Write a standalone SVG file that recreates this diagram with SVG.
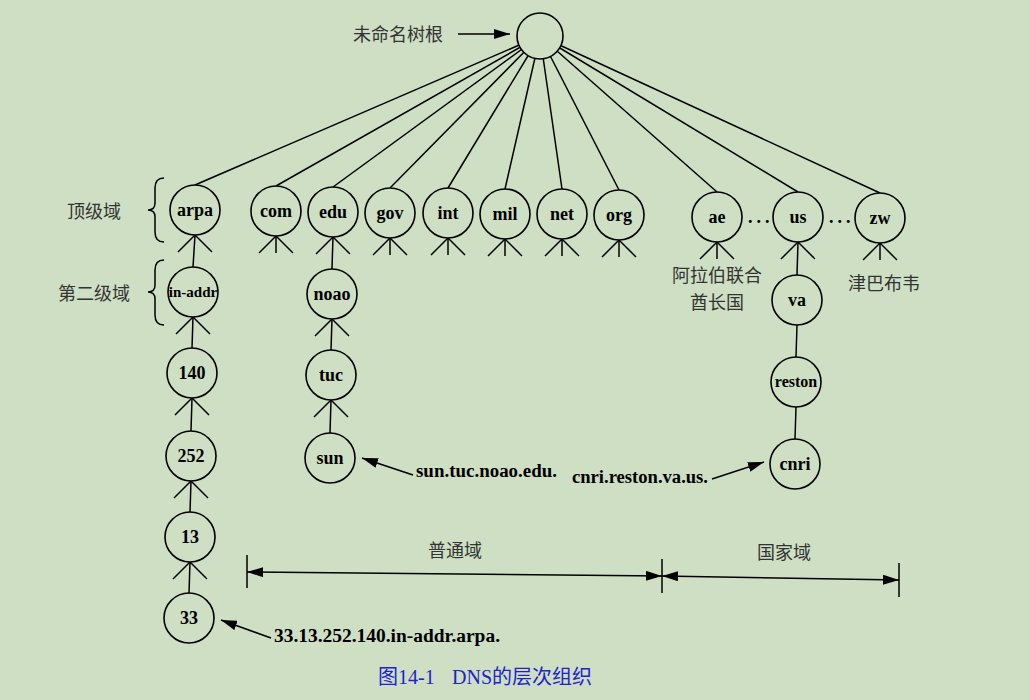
<svg xmlns="http://www.w3.org/2000/svg" width="1029" height="700" viewBox="0 0 1029 700">
<defs>
<marker id="ah" viewBox="0 0 16 10" refX="16" refY="5" markerWidth="16" markerHeight="10" markerUnits="userSpaceOnUse" orient="auto-start-reverse">
<path d="M0,0 L16,5 L0,10 z" fill="#000"/>
</marker>
</defs>
<style>
.bg{fill:#cedfc4}
.ln{stroke:#000;stroke-width:1.5;fill:none}
.nd{stroke:#000;stroke-width:1.6;fill:#cedfc4}
.n{font-family:"Liberation Serif",serif;font-weight:bold;font-size:18px;text-anchor:middle;fill:#000}
.s{font-size:15px}
.lbl{font-family:"Liberation Serif",serif;font-weight:bold;font-size:18px;fill:#000}
.c{font-family:"Noto Sans CJK SC",sans-serif;font-size:18px;fill:#333;text-anchor:middle}
.ar{stroke:#000;stroke-width:1.5;fill:none;marker-end:url(#ah)}
.dim{stroke:#000;stroke-width:1.5;fill:none;marker-start:url(#ah);marker-end:url(#ah)}
.cap{font-family:"Liberation Serif","Noto Sans CJK SC",serif;font-size:20px;fill:#2222cc}
</style>
<rect class="bg" x="0" y="0" width="1029" height="700"/>
<g id="connectors">
<g id="root-links">
<line class="ln" x1="540" y1="36" x2="195" y2="185"/>
<line class="ln" x1="540" y1="36" x2="276" y2="186"/>
<line class="ln" x1="540" y1="36" x2="333" y2="187"/>
<line class="ln" x1="540" y1="36" x2="390" y2="188"/>
<line class="ln" x1="540" y1="36" x2="448" y2="188"/>
<line class="ln" x1="540" y1="36" x2="505" y2="189"/>
<line class="ln" x1="540" y1="36" x2="562" y2="189"/>
<line class="ln" x1="540" y1="36" x2="619" y2="190"/>
<line class="ln" x1="540" y1="36" x2="717" y2="192"/>
<line class="ln" x1="540" y1="36" x2="798" y2="192"/>
<line class="ln" x1="540" y1="36" x2="880" y2="193"/>
</g>
<g id="forks">
<polyline class="ln" points="178,252 195,235 212,252"/><line class="ln" x1="195" y1="235" x2="193" y2="267"/>
<polyline class="ln" points="259,253 276,236 293,253"/><line class="ln" x1="276" y1="236" x2="276" y2="253"/>
<polyline class="ln" points="316,254 333,237 350,254"/><line class="ln" x1="333" y1="237" x2="332" y2="269"/>
<polyline class="ln" points="373,255 390,238 407,255"/><line class="ln" x1="390" y1="238" x2="390" y2="255"/>
<polyline class="ln" points="431,255 448,238 465,255"/><line class="ln" x1="448" y1="238" x2="448" y2="255"/>
<polyline class="ln" points="488,256 505,239 522,256"/><line class="ln" x1="505" y1="239" x2="505" y2="256"/>
<polyline class="ln" points="545,256 562,239 579,256"/><line class="ln" x1="562" y1="239" x2="562" y2="256"/>
<polyline class="ln" points="602,257 619,240 636,257"/><line class="ln" x1="619" y1="240" x2="619" y2="257"/>
<polyline class="ln" points="700,259 717,242 734,259"/><line class="ln" x1="717" y1="242" x2="717" y2="259"/>
<polyline class="ln" points="781,259 798,242 815,259"/><line class="ln" x1="798" y1="242" x2="797" y2="275"/>
<polyline class="ln" points="863,260 880,243 897,260"/><line class="ln" x1="880" y1="243" x2="880" y2="260"/>
<polyline class="ln" points="176,334 193,317 210,334"/><line class="ln" x1="193" y1="317" x2="192" y2="348"/>
<polyline class="ln" points="175,415 192,398 209,415"/><line class="ln" x1="192" y1="398" x2="191" y2="431"/>
<polyline class="ln" points="174,498 191,481 208,498"/><line class="ln" x1="191" y1="481" x2="190" y2="512"/>
<polyline class="ln" points="173,579 190,562 207,579"/><line class="ln" x1="190" y1="562" x2="189" y2="593"/>
<polyline class="ln" points="315,336 332,319 349,336"/><line class="ln" x1="332" y1="319" x2="331" y2="350"/>
<polyline class="ln" points="314,417 331,400 348,417"/><line class="ln" x1="331" y1="400" x2="330" y2="433"/>
<line class="ln" x1="797" y1="325" x2="796" y2="357"/>
<line class="ln" x1="796" y1="407" x2="795" y2="439"/>
</g>
<g id="pointers">
<line class="ar" x1="458" y1="34" x2="510" y2="34"/>
<line class="ar" x1="413" y1="475" x2="362" y2="458"/>
<line class="ar" x1="712" y1="479" x2="764" y2="462"/>
<line class="ar" x1="271" y1="638" x2="221" y2="620"/>
</g>
<g id="dimension">
<line class="ln" x1="247" y1="555" x2="247" y2="588"/>
<line class="ln" x1="662" y1="559" x2="662" y2="593"/>
<line class="ln" x1="899" y1="563" x2="899" y2="597"/>
<line class="dim" x1="247" y1="572" x2="662" y2="576"/>
<line class="dim" x1="662" y1="576" x2="899" y2="580"/>
</g>
<g id="braces">
<path class="ln" d="M164,178 Q155,178 155,188 L155,203 Q155,210 148,210 Q155,210 155,217 L155,232 Q155,242 164,242"/>
<path class="ln" d="M164,260 Q155,260 155,270 L155,285 Q155,292 148,292 Q155,292 155,299 L155,315 Q155,325 164,325"/>
</g>
</g>
<g id="root"><circle class="nd" cx="540" cy="36" r="23"/></g>
<g id="arpa"><circle class="nd" cx="195" cy="210" r="25"/><text class="n" x="195" y="216">arpa</text></g>
<g id="com"><circle class="nd" cx="276" cy="211" r="25"/><text class="n" x="276" y="217">com</text></g>
<g id="edu"><circle class="nd" cx="333" cy="212" r="25"/><text class="n" x="333" y="218">edu</text></g>
<g id="gov"><circle class="nd" cx="390" cy="213" r="25"/><text class="n" x="390" y="219">gov</text></g>
<g id="int"><circle class="nd" cx="448" cy="213" r="25"/><text class="n" x="448" y="219">int</text></g>
<g id="mil"><circle class="nd" cx="505" cy="214" r="25"/><text class="n" x="505" y="220">mil</text></g>
<g id="net"><circle class="nd" cx="562" cy="214" r="25"/><text class="n" x="562" y="220">net</text></g>
<g id="org"><circle class="nd" cx="619" cy="215" r="25"/><text class="n" x="619" y="221">org</text></g>
<g id="ae"><circle class="nd" cx="717" cy="217" r="25"/><text class="n" x="717" y="223">ae</text></g>
<g id="us"><circle class="nd" cx="798" cy="217" r="25"/><text class="n" x="798" y="223">us</text></g>
<g id="zw"><circle class="nd" cx="880" cy="218" r="25"/><text class="n" x="880" y="224">zw</text></g>
<g id="in-addr"><circle class="nd" cx="193" cy="292" r="25"/><text class="n s" x="193" y="297">in-addr</text></g>
<g id="n140"><circle class="nd" cx="192" cy="373" r="25"/><text class="n" x="192" y="379">140</text></g>
<g id="n252"><circle class="nd" cx="191" cy="456" r="25"/><text class="n" x="191" y="462">252</text></g>
<g id="n13"><circle class="nd" cx="190" cy="537" r="25"/><text class="n" x="190" y="543">13</text></g>
<g id="n33"><circle class="nd" cx="189" cy="618" r="25"/><text class="n" x="189" y="624">33</text></g>
<g id="noao"><circle class="nd" cx="332" cy="294" r="25"/><text class="n" x="332" y="300">noao</text></g>
<g id="tuc"><circle class="nd" cx="331" cy="375" r="25"/><text class="n" x="331" y="381">tuc</text></g>
<g id="sun"><circle class="nd" cx="330" cy="458" r="25"/><text class="n" x="330" y="464">sun</text></g>
<g id="va"><circle class="nd" cx="797" cy="300" r="25"/><text class="n" x="797" y="306">va</text></g>
<g id="reston"><circle class="nd" cx="796" cy="382" r="25"/><text class="n" x="796" y="387" style="font-size:16px">reston</text></g>
<g id="cnri"><circle class="nd" cx="795" cy="464" r="25"/><text class="n" x="795" y="470">cnri</text></g>
<g id="labels">
<text class="c" x="398" y="41">未命名树根</text>
<text class="c" x="94" y="218">顶级域</text>
<text class="c" x="94" y="300">第二级域</text>
<text class="c" x="717" y="282">阿拉伯联合</text>
<text class="c" x="717" y="309">酋长国</text>
<text class="c" x="884" y="290">津巴布韦</text>
<text class="c" x="455" y="557">普通域</text>
<text class="c" x="784" y="559">国家域</text>
<text class="lbl" x="748" y="223" style="letter-spacing:4px">...</text>
<text class="lbl" x="829" y="223" style="letter-spacing:4px">...</text>
<text class="lbl" x="416" y="477" textLength="141" lengthAdjust="spacingAndGlyphs">sun.tuc.noao.edu.</text>
<text class="lbl" x="572" y="483" textLength="136" lengthAdjust="spacingAndGlyphs">cnri.reston.va.us.</text>
<text class="lbl" x="274" y="642" textLength="226" lengthAdjust="spacingAndGlyphs">33.13.252.140.in-addr.arpa.</text>
<text class="cap" x="378" y="684">图14-1</text>
<text class="cap" x="452" y="684">DNS的层次组织</text>
</g>
</svg>
